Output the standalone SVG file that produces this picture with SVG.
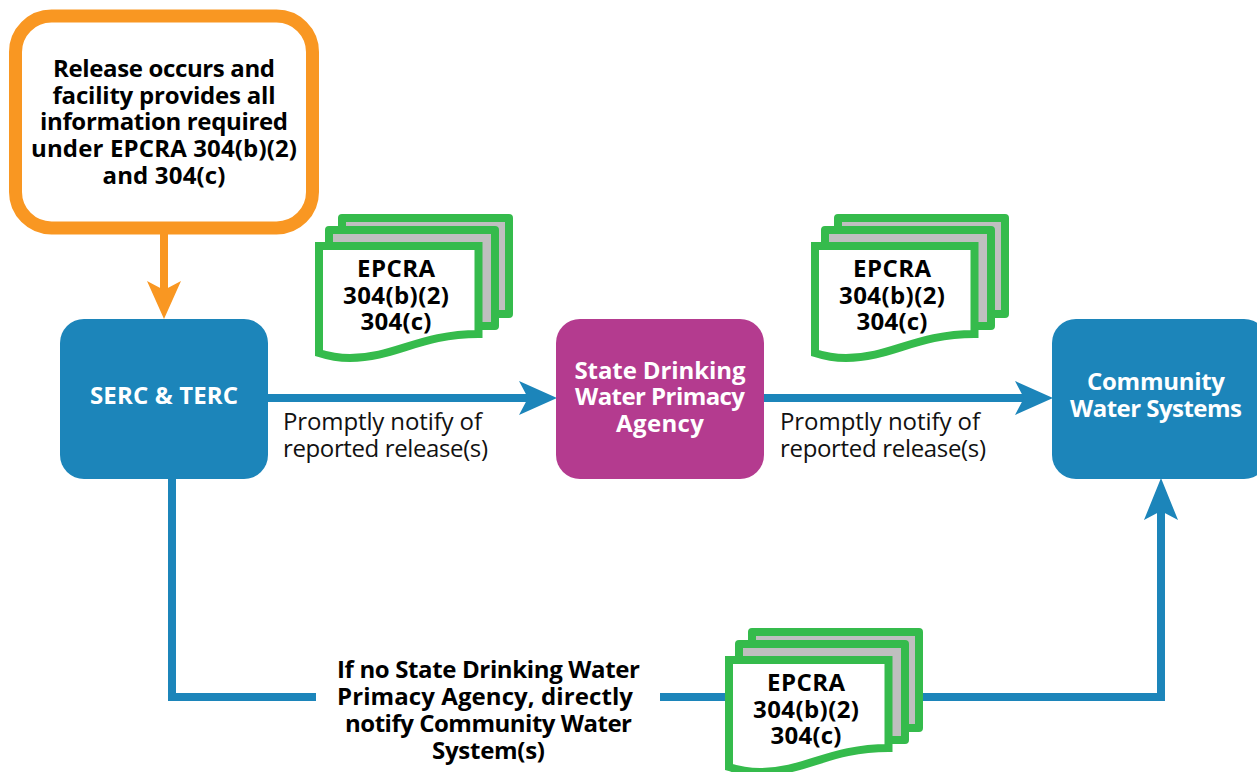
<svg xmlns="http://www.w3.org/2000/svg" width="1257" height="772" viewBox="0 0 1257 772">
<style>
text{font-family:"Open Sans","Noto Sans","Liberation Sans",sans-serif;text-anchor:middle;font-size:24px}
.b{font-weight:700;fill:#000}
.w{font-weight:700;fill:#fff}
.r{fill:#111}
.l{fill:none;stroke:#1c85ba;stroke-width:8}
.box{fill:#1c85ba}
.s{stroke:#35bb4c;stroke-width:8;stroke-linejoin:round}
</style>
<defs>
<g id="doc">
<rect class="s" x="342" y="218" width="167" height="96" fill="#bfbfbf"/>
<rect class="s" x="329" y="230" width="166" height="96" fill="#bfbfbf"/>
<path d="M319 246H478.500V334C420 334 395 358 350 358C338 358 328 356 319 353Z" fill="#fff" stroke="#35bb4c" stroke-width="8" stroke-linejoin="miter"/>
</g>
</defs>
<g id="connectors">
<path d="M164 232V296" fill="none" stroke="#f99722" stroke-width="8"/>
<path d="M147 281L164 319L181 281L164 290Z" fill="#f99722"/>
<path class="l" d="M268 398H535"/>
<path class="box" d="M519 381L557 398L519 415L528 398Z"/>
<path class="l" d="M764 398H1030"/>
<path class="box" d="M1015 381L1053 398L1015 415L1024 398Z"/>
<path class="l" d="M172 478V697H316"/>
<path class="l" d="M660 697H730"/>
<path class="l" d="M915 697H1161V500"/>
<path class="box" d="M1144 520L1161 478L1178 520L1161 511Z"/>
</g>
<g id="release">
<rect x="15.500" y="16" width="297" height="212" rx="36" fill="#fff" stroke="#f99722" stroke-width="13"/>
<text class="b" x="164" y="77" textLength="222">Release occurs and</text>
<text class="b" x="164" y="104" textLength="223">facility provides all</text>
<text class="b" x="164" y="130" textLength="248">information required</text>
<text class="b" x="164" y="157" textLength="266">under EPCRA 304(b)(2)</text>
<text class="b" x="164" y="184" textLength="123">and 304(c)</text>
</g>
<g id="serc">
<rect class="box" x="60" y="319" width="208" height="160" rx="24"/>
<text class="w" x="164" y="404" textLength="148">SERC &amp; TERC</text>
</g>
<g id="state">
<rect x="556" y="319" width="208" height="160" rx="24" fill="#b43b8f"/>
<text class="w" x="660" y="379" textLength="171">State Drinking</text>
<text class="w" x="660" y="405" textLength="170">Water Primacy</text>
<text class="w" x="660" y="432" textLength="88">Agency</text>
</g>
<g id="community">
<rect class="box" x="1052" y="319" width="216" height="160" rx="24"/>
<text class="w" x="1156" y="390" textLength="138">Community</text>
<text class="w" x="1156" y="417" textLength="172">Water Systems</text>
</g>
<g id="doc1">
<use href="#doc"/>
<text class="b" x="396" y="277" textLength="78">EPCRA</text>
<text class="b" x="396" y="304" textLength="106">304(b)(2)</text>
<text class="b" x="396" y="330" textLength="71">304(c)</text>
</g>
<g id="doc2">
<use href="#doc" x="496"/>
<text class="b" x="892" y="277" textLength="78">EPCRA</text>
<text class="b" x="892" y="304" textLength="106">304(b)(2)</text>
<text class="b" x="892" y="330" textLength="71">304(c)</text>
</g>
<g id="doc3">
<use href="#doc" x="410" y="414"/>
<text class="b" x="806" y="691" textLength="78">EPCRA</text>
<text class="b" x="806" y="718" textLength="106">304(b)(2)</text>
<text class="b" x="806" y="744" textLength="71">304(c)</text>
</g>
<g id="labels">
<text class="r" x="382.500" y="430" textLength="199">Promptly notify of</text>
<text class="r" x="385.500" y="457" textLength="205">reported release(s)</text>
<text class="r" x="880" y="430" textLength="200">Promptly notify of</text>
<text class="r" x="883" y="457" textLength="206">reported release(s)</text>
<text class="b" x="488.500" y="678" textLength="303">If no State Drinking Water</text>
<text class="b" x="485" y="705" textLength="296">Primacy Agency, directly</text>
<text class="b" x="488.500" y="732" textLength="287">notify Community Water</text>
<text class="b" x="488.500" y="759" textLength="113">System(s)</text>
</g>
</svg>
